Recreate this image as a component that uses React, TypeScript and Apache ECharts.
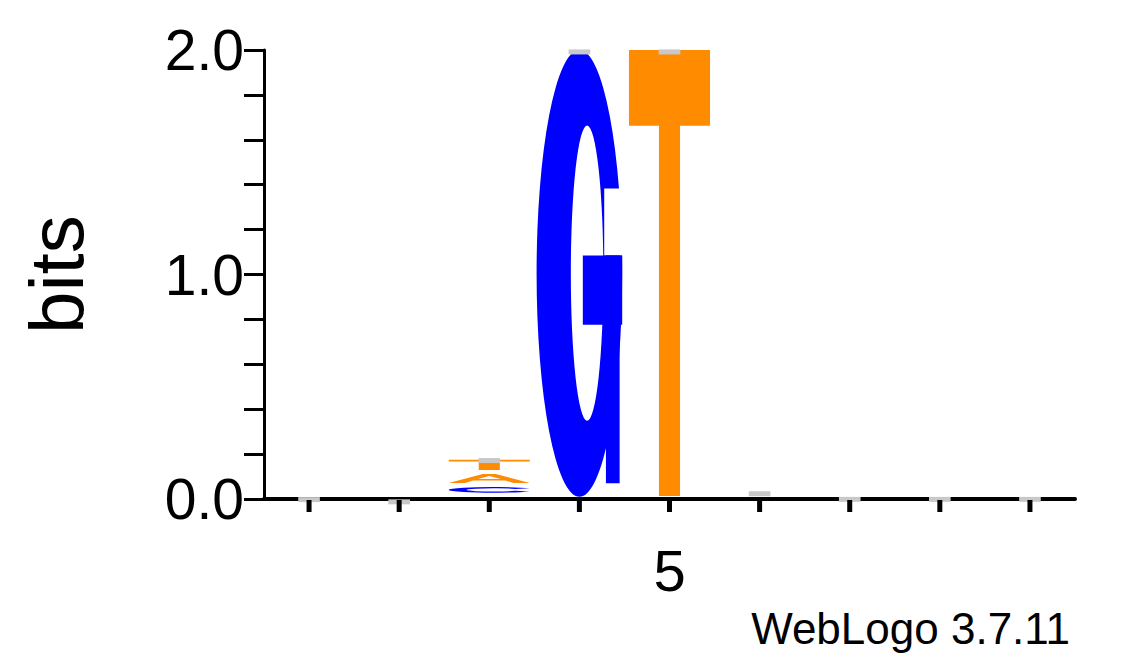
import React, { useEffect, useRef } from "react";
import * as echarts from "echarts";

const positions = ["1", "2", "3", "4", "5", "6", "7", "8", "9"];
const shownLabels = ["5"];
// letter stacks per position, bottom to top: [letter, bits]
const stacks: [string, number][][] = [
  [], [], [["C", 0.025], ["A", 0.04], ["T", 0.046]], [["G", 1.99]], [["T", 1.987]], [], [], [], [],
];
const stackBase = [0, 0, 0.028, 0.01, 0.013, 0, 0, 0, 0];
const letterGap = 0.018;
const errorTops = [0.004, -0.006, 0.178, 1.998, 1.998, 0.03, 0.005, 0.005, 0.005];
const yTicks = ["0.0", "1.0", "2.0"];

const COLORS: Record<string, string> = { G: "#0000ff", C: "#0000ff", T: "#ff8c00", A: "#ff8c00" };

const RING = "M100,50 A50,50 0 1,0 0,50 A50,50 0 1,0 100,50 Z M78,50 A19,33 0 1,1 40,50 A19,33 0 1,1 78,50 Z";
const T_PATH = "M0,0 L100,0 L100,17 L63,17 L63,100 L37,100 L37,17 L0,17 Z";
const A_PATH = "M0,100 L42,0 L58,0 L100,100 L80,100 L70,72 L30,72 L20,100 Z M36,56 L64,56 L50,20 Z";
const C_PATH = "M91,21.3 A50,50 0 1,0 91,78.7 L74.6,67.2 A30,30 0 1,1 74.6,32.8 Z";

function letterShapes(letter: string, x: number, y: number, w: number, h: number) {
  const fill = COLORS[letter];
  const p = (d: string, bx: number, by: number, bw: number, bh: number) => ({
    type: "path",
    shape: { pathData: d, x: bx, y: by, width: bw, height: bh, layout: "cover" },
    style: { fill },
  });
  if (letter === "G") {
    return [
      p(RING, x, y, w, h),
      { type: "rect", shape: { x: x + w * 0.79, y: y + h * 0.31, width: w * 0.24, height: h * 0.15 }, style: { fill: "#ffffff" } },
      { type: "rect", shape: { x: x + w * 0.54, y: y + h * 0.46, width: w * 0.46, height: h * 0.155 }, style: { fill } },
      { type: "rect", shape: { x: x + w * 0.81, y: y + h * 0.46, width: w * 0.16, height: h * 0.51 }, style: { fill } },
    ];
  }
  if (letter === "T") return [p(T_PATH, x, y, w, h)];
  if (letter === "A") return [p(A_PATH, x, y, w, h)];
  return [p(C_PATH, x, y, w, h)];
}

export default function App() {
  const ref = useRef<HTMLDivElement>(null);
  useEffect(() => {
    document.body.style.margin = "0";
    const chart = echarts.init(ref.current!, null, { renderer: "svg" });
    const font = "'Liberation Sans', Arial, sans-serif";
    chart.setOption({
      animation: false,
      grid: { left: 264, right: 50, top: 50, bottom: 168 },
      xAxis: {
        type: "category",
        data: positions,
        boundaryGap: true,
        axisLine: { lineStyle: { color: "#000", width: 4 } },
        axisTick: { show: false },
        axisLabel: {
          interval: 0, margin: 42, fontSize: 58, color: "#000", fontFamily: font,
          formatter: (v: string) => (shownLabels.includes(v) ? v : ""),
        },
        splitLine: { show: false },
      },
      yAxis: {
        type: "value", min: 0, max: 2, interval: 0.2,
        name: "bits", nameLocation: "middle", nameGap: 170, nameRotate: 90,
        nameTextStyle: { fontSize: 76, color: "#000", fontFamily: font },
        axisLine: { show: true, lineStyle: { color: "#000", width: 3 } },
        axisTick: { show: true, length: 20, lineStyle: { color: "#000", width: 3 } },
        axisLabel: {
          margin: 20, fontSize: 57, color: "#000", fontFamily: font,
          formatter: (v: number) => {
            const s = v.toFixed(1);
            return yTicks.includes(s) && Math.abs(v - Math.round(v)) < 1e-6 ? s : "";
          },
        },
        splitLine: { show: false },
      },
      graphic: [
        { type: "text", right: 55, top: 606, style: { text: "WebLogo 3.7.11", fill: "#000", font: `44px ${font}` } },
      ],
      series: [
        {
          type: "custom",
          data: positions.map((_, i) => [i]),
          renderItem: (params: any, api: any) => {
            const i = api.value(0);
            const slot = api.size([1, 0])[0];
            const children: any[] = [];
            let v = stackBase[i];
            stacks[i].forEach(([letter, h], k) => {
              if (k > 0) v += letterGap;
              const p0 = api.coord([i, v]);
              const p1 = api.coord([i, v + h]);
              const w = slot * (letter === "G" ? 0.95 : 0.9);
              children.push(...letterShapes(letter, p0[0] - w / 2, p1[1], w, p0[1] - p1[1]));
              v += h;
            });
            const e = api.coord([i, errorTops[i]]);
            children.push({
              type: "rect",
              shape: { x: e[0] - slot * 0.12, y: e[1] - 1, width: slot * 0.24, height: 5 },
              style: { fill: "#c8c8c8" },
            });
            const z = api.coord([i, 0]);
            children.push({
              type: "rect",
              shape: { x: z[0] - 2.5, y: z[1] + 1, width: 5, height: 12 },
              style: { fill: "#000" },
            });
            return { type: "group", children };
          },
        },
      ],
    });
    return () => chart.dispose();
  }, []);
  return <div ref={ref} style={{ width: 1125, height: 667 }} />;
}
